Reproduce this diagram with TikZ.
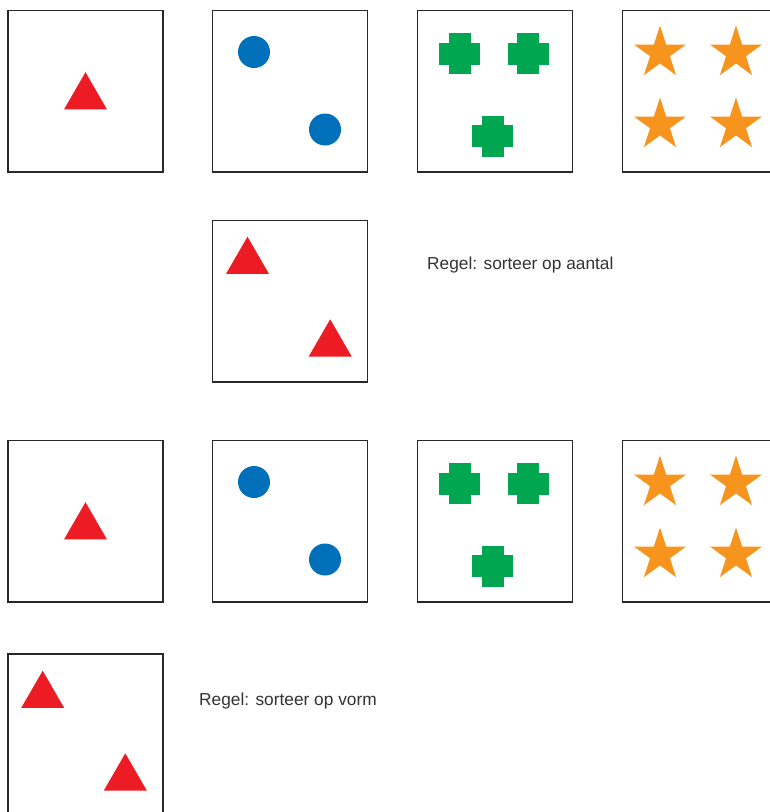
\documentclass[tikz,border=0pt]{standalone}
\usepackage{fontspec}
\setmainfont{Liberation Sans}
\usetikzlibrary{shapes.geometric}
\definecolor{tokred}{RGB}{237,28,36}
\definecolor{tokblue}{RGB}{0,112,186}
\definecolor{tokgreen}{RGB}{0,166,80}
\definecolor{tokorange}{RGB}{247,148,30}
\definecolor{cardline}{RGB}{40,40,40}
\definecolor{textgray}{RGB}{51,51,51}

\begin{document}
\begin{tikzpicture}[
  x=1pt, y=-1pt,
  card/.style={draw=cardline,line width=1.5pt,minimum width=155pt,minimum height=161.5pt,inner sep=0pt},
  tri/.style={regular polygon,regular polygon sides=3,fill=tokred,minimum size=49.6pt,inner sep=0pt},
  dot/.style={circle,fill=tokblue,minimum size=32pt,inner sep=0pt},
  ster/.style={star,star points=5,star point ratio=2.618,fill=tokorange,minimum size=54.8pt,inner sep=0pt},
  plusblob/.pic={\fill[tokgreen] (-20.5,-11) rectangle (20.5,11);
                 \fill[tokgreen] (-11,-20.5) rectangle (11,20.5);},
  regel/.style={font=\fontsize{17.3}{21}\selectfont,text=textgray,anchor=base west,inner sep=0pt}
]
  \useasboundingbox (0,0) rectangle (770,812);
  % first row
  \node[card] (c11) at (85.5,91) {};
  \node[card] (c12) at (290.2,91) {};
  \node[card] (c13) at (495,91) {};
  \node[card] (c14) at (699.9,91) {};
  \node[tri] (t1) at (85.5,97) {};
  \node[dot] (d1) at (254,52) {};
  \node[dot] (d2) at (325,129.5) {};
  \pic (k1) at (459.5,53.5) {plusblob};
  \pic (k2) at (528.2,53.5) {plusblob};
  \pic (k3) at (492.7,136) {plusblob};
  \node[ster] (s1) at (660,53) {};
  \node[ster] (s2) at (736,53) {};
  \node[ster] (s3) at (660,125) {};
  \node[ster] (s4) at (736,125) {};
  % card to sort by number
  \node[card] (c22) at (290.2,301) {};
  \node[tri] (t2) at (247.5,261.5) {};
  \node[tri] (t3) at (330.2,344.1) {};
  \node[regel] (r1) at (427,269.5) {Regel: sorteer op aantal};
  % second row
  \node[card] (c31) at (85.5,521) {};
  \node[card] (c32) at (290.2,521) {};
  \node[card] (c33) at (495,521) {};
  \node[card] (c34) at (699.9,521) {};
  \node[tri] (t4) at (85.5,527) {};
  \node[dot] (d3) at (254,482) {};
  \node[dot] (d4) at (325,559.5) {};
  \pic (k4) at (459.5,483.5) {plusblob};
  \pic (k5) at (528.2,483.5) {plusblob};
  \pic (k6) at (492.7,566) {plusblob};
  \node[ster] (s5) at (660,483) {};
  \node[ster] (s6) at (736,483) {};
  \node[ster] (s7) at (660,555) {};
  \node[ster] (s8) at (736,555) {};
  % card to sort by shape
  \node[card] (c41) at (85.5,734.8) {};
  \node[tri] (t5) at (42.7,695.5) {};
  \node[tri] (t6) at (125.3,778.1) {};
  \node[regel] (r2) at (199,705) {Regel: sorteer op vorm};
\end{tikzpicture}
\end{document}
